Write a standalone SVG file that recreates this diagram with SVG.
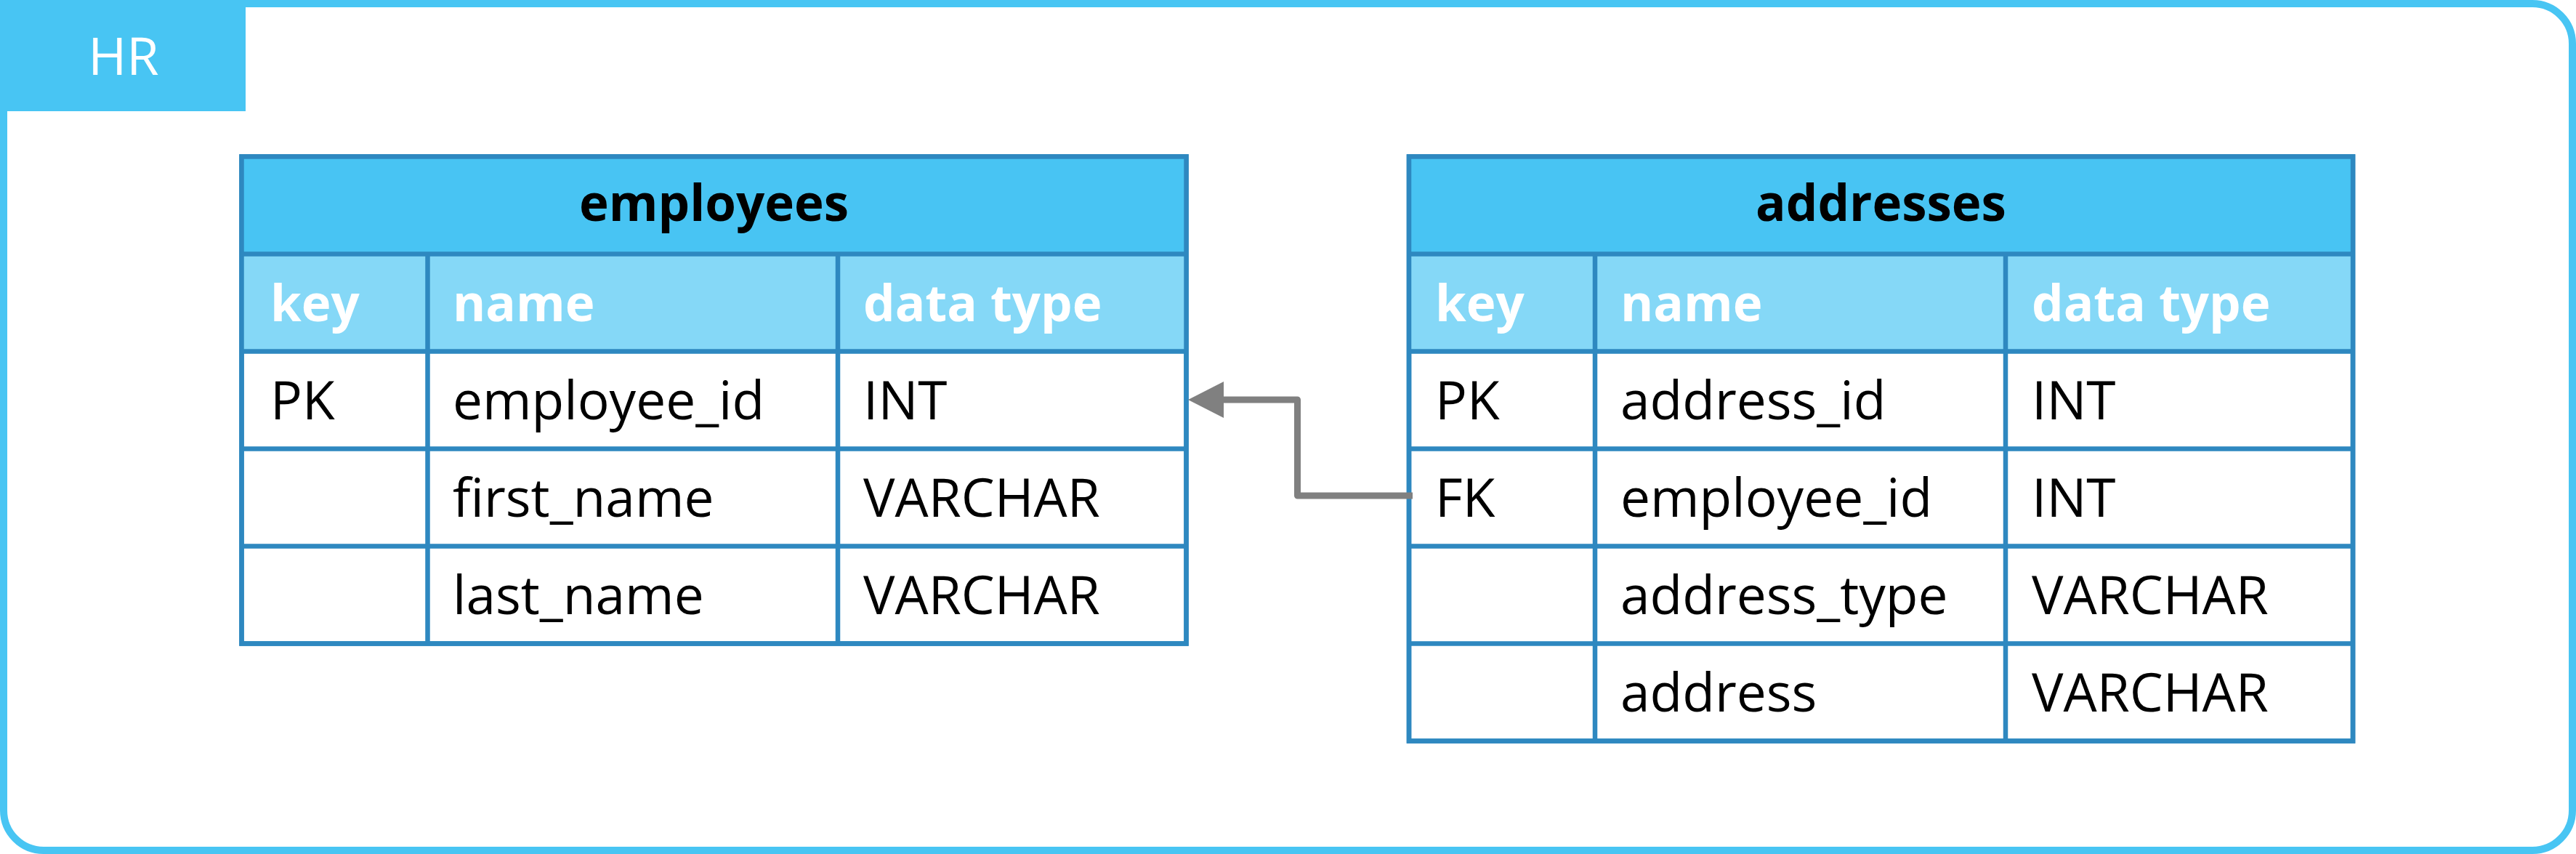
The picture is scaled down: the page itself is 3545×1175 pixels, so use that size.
<svg xmlns="http://www.w3.org/2000/svg" width="3545" height="1175" viewBox="0 0 3545 1175">
  <style>
    .frame { fill: #FFFFFF; stroke: #48C5F3; stroke-width: 10; }
    .tab { fill: #48C5F3; }
    .tabtext { font-family: "Open Sans", "Liberation Sans", sans-serif; font-size: 72px; fill: #FFFFFF; text-anchor: middle; }
    .tbl { fill: #FFFFFF; stroke: #2E88C0; stroke-width: 6.5; }
    .title { fill: #48C4F3; }
    .colhead { fill: #85D8F7; }
    .grid { stroke: #2E88C0; stroke-width: 6.5; fill: none; }
    .ttext { font-family: "Open Sans", "Liberation Sans", sans-serif; font-size: 69px; font-weight: bold; fill: #000000; text-anchor: middle; }
    .htext { font-family: "Open Sans", "Liberation Sans", sans-serif; font-size: 69px; font-weight: bold; fill: #FFFFFF; }
    .ctext { font-family: "Open Sans", "Liberation Sans", sans-serif; font-size: 73px; fill: #000000; }
    .conn { fill: none; stroke: #808080; stroke-width: 9; stroke-linejoin: round; }
  </style>
  <defs>
    <marker id="arrow" markerUnits="userSpaceOnUse" markerWidth="50" markerHeight="52" viewBox="0 0 50 52" refX="1" refY="26" orient="auto">
      <path d="M0,1 L49,26 L0,51 Z" fill="#808080"/>
    </marker>
  </defs>

  <g id="container-HR">
    <path class="frame" d="M5,5 H3485 A55,55 0 0 1 3540,60 V1115 A55,55 0 0 1 3485,1170 H60 A55,55 0 0 1 5,1115 Z"/>
    <rect class="tab" x="0" y="0" width="338" height="153"/>
    <text class="tabtext" x="170" y="103">HR</text>
  </g>

  <g id="table-employees">
    <rect class="tbl" x="332.5" y="215.5" width="1300" height="670"/>
    <rect class="title" x="332.5" y="215.5" width="1300" height="134"/>
    <rect class="colhead" x="332.5" y="349.5" width="1300" height="134"/>
    <rect class="grid" x="332.5" y="215.5" width="1300" height="670"/>
    <path class="grid" d="M332.5,349.5 H1632.5 M332.5,483.5 H1632.5 M332.5,617.5 H1632.5 M332.5,751.5 H1632.5 M588.5,349.5 V885.5 M1153,349.5 V885.5"/>
    <text class="ttext" x="982.5" y="303.5">employees</text>
    <text class="htext" x="372" y="441.5">key</text>
    <text class="htext" x="623" y="441.5">name</text>
    <text class="htext" x="1188" y="441.5">data type</text>
    <text class="ctext" x="372" y="576.5">PK</text>
    <text class="ctext" x="623" y="576.5">employee_id</text>
    <text class="ctext" x="1188" y="576.5">INT</text>
    <text class="ctext" x="623" y="710.5">first_name</text>
    <text class="ctext" x="1188" y="710.5">VARCHAR</text>
    <text class="ctext" x="623" y="844.5">last_name</text>
    <text class="ctext" x="1188" y="844.5">VARCHAR</text>
  </g>

  <g id="table-addresses">
    <rect class="tbl" x="1939" y="215.5" width="1299" height="804"/>
    <rect class="title" x="1939" y="215.5" width="1299" height="134"/>
    <rect class="colhead" x="1939" y="349.5" width="1299" height="134"/>
    <rect class="grid" x="1939" y="215.5" width="1299" height="804"/>
    <path class="grid" d="M1939,349.5 H3238 M1939,483.5 H3238 M1939,617.5 H3238 M1939,751.5 H3238 M1939,885.5 H3238 M2195,349.5 V1019.5 M2760,349.5 V1019.5"/>
    <text class="ttext" x="2588.5" y="303.5">addresses</text>
    <text class="htext" x="1975" y="441.5">key</text>
    <text class="htext" x="2230" y="441.5">name</text>
    <text class="htext" x="2796" y="441.5">data type</text>
    <text class="ctext" x="1975" y="576.5">PK</text>
    <text class="ctext" x="2230" y="576.5">address_id</text>
    <text class="ctext" x="2796" y="576.5">INT</text>
    <text class="ctext" x="1975" y="710.5">FK</text>
    <text class="ctext" x="2230" y="710.5">employee_id</text>
    <text class="ctext" x="2796" y="710.5">INT</text>
    <text class="ctext" x="2230" y="844.5">address_type</text>
    <text class="ctext" x="2796" y="844.5">VARCHAR</text>
    <text class="ctext" x="2230" y="978.5">address</text>
    <text class="ctext" x="2796" y="978.5">VARCHAR</text>
  </g>

  <g id="connectors">
    <path class="conn" d="M1944,682 H1785.5 V550 H1683" marker-end="url(#arrow)"/>
  </g>
</svg>
